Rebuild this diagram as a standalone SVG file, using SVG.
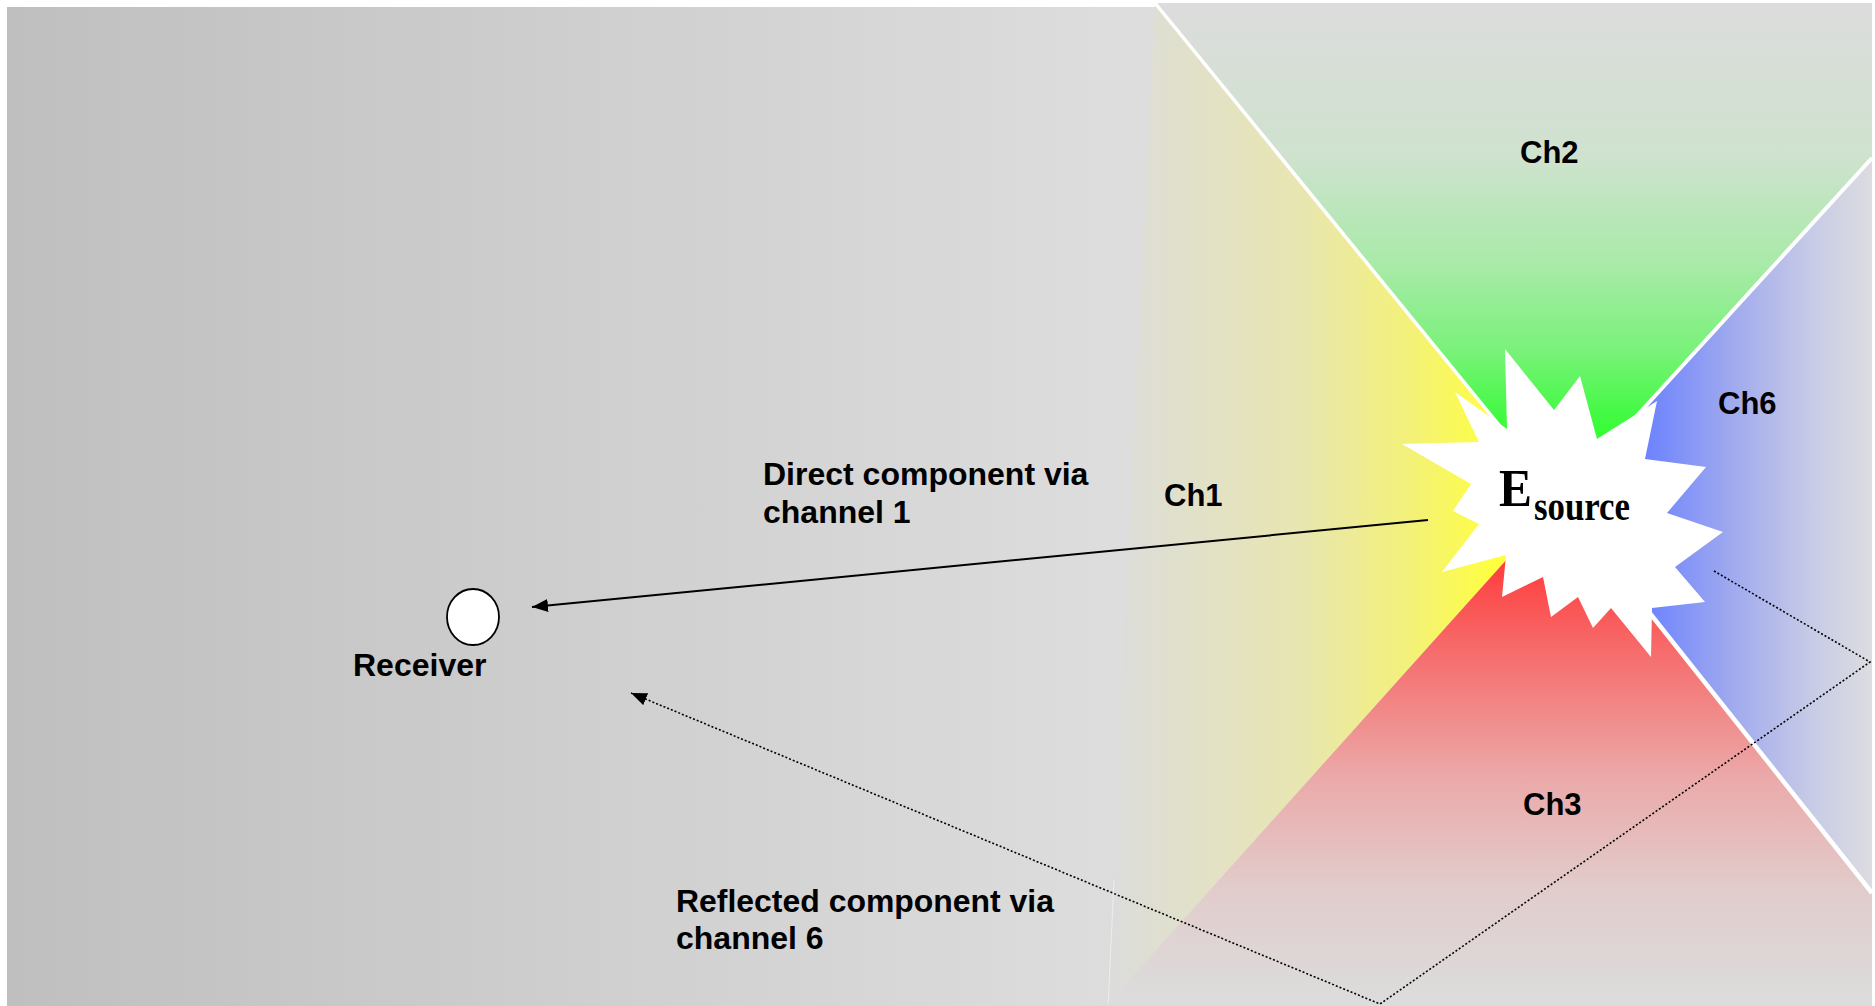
<svg xmlns="http://www.w3.org/2000/svg" width="1875" height="1006" viewBox="0 0 1875 1006">
  <style>
    .lbl { font-family: "Liberation Sans", Arial, sans-serif; font-weight: bold; font-size: 32px; fill: #000; }
    .ch { font-family: "Liberation Sans", Arial, sans-serif; font-weight: bold; font-size: 31px; fill: #000; }
    .src { font-family: "Liberation Serif", "Times New Roman", serif; font-weight: bold; fill: #000; }
    .sep { stroke: #fff; fill: none; }
    .direct { stroke: #000; stroke-width: 2; fill: none; }
    .reflect { stroke: #000; stroke-width: 1.6; stroke-dasharray: 2 2; fill: none; }
  </style>
  <defs>
    <linearGradient id="gBg" gradientUnits="userSpaceOnUse" x1="7" y1="0" x2="1110" y2="0">
      <stop offset="0" stop-color="#bfbfbf"/>
      <stop offset="1" stop-color="#dddddd"/>
    </linearGradient>
    <linearGradient id="gGreen" gradientUnits="userSpaceOnUse" x1="0" y1="3" x2="0" y2="440">
      <stop offset="0" stop-color="#dcdcdc"/>
      <stop offset="0.35" stop-color="#cfe2cf"/>
      <stop offset="0.6" stop-color="#a8eaa8"/>
      <stop offset="0.8" stop-color="#78f278"/>
      <stop offset="0.95" stop-color="#40fa40"/>
      <stop offset="1" stop-color="#33ff33"/>
    </linearGradient>
    <linearGradient id="gYellow" gradientUnits="userSpaceOnUse" x1="1110" y1="0" x2="1495" y2="0">
      <stop offset="0" stop-color="#dcdcdc"/>
      <stop offset="0.5" stop-color="#e8e6b0"/>
      <stop offset="0.8" stop-color="#f4f274"/>
      <stop offset="1" stop-color="#ffff40"/>
    </linearGradient>
    <linearGradient id="gRed" gradientUnits="userSpaceOnUse" x1="0" y1="560" x2="0" y2="1000">
      <stop offset="0" stop-color="#ff3c3c"/>
      <stop offset="0.2" stop-color="#f76a6a"/>
      <stop offset="0.5" stop-color="#ebaaaa"/>
      <stop offset="0.75" stop-color="#e2cccc"/>
      <stop offset="1" stop-color="#dcdcdc"/>
    </linearGradient>
    <linearGradient id="gBlue" gradientUnits="userSpaceOnUse" x1="1640" y1="0" x2="1872" y2="0">
      <stop offset="0" stop-color="#6a80ff"/>
      <stop offset="0.4" stop-color="#a0aaee"/>
      <stop offset="0.75" stop-color="#c8cce6"/>
      <stop offset="1" stop-color="#dcdce0"/>
    </linearGradient>
    <marker id="arrow" markerUnits="userSpaceOnUse" markerWidth="16" markerHeight="13" refX="16" refY="6.5" orient="auto">
      <path d="M0,0 L16,6.5 L0,13 Z" fill="#000"/>
    </marker>
  </defs>

  <rect id="background" x="7" y="7" width="1865" height="999" fill="url(#gBg)"/>

  <g id="ch1-wedge">
    <polygon points="1155,3 1560,500 1106,1006" fill="url(#gYellow)"/>
    <line x1="1114" y1="880" x2="1108" y2="1006" stroke="#fff" stroke-opacity="0.5" stroke-width="1"/>
  </g>
  <g id="ch2-wedge">
    <polygon points="1155,3 1872,3 1872,158 1560,500" fill="url(#gGreen)"/>
  </g>
  <g id="ch6-wedge">
    <polygon points="1872,158 1560,500 1872,893" fill="url(#gBlue)"/>
  </g>
  <g id="ch3-wedge">
    <polygon points="1560,500 1872,893 1872,1006 1106,1006" fill="url(#gRed)"/>
  </g>
  <g id="separators">
    <line class="sep" x1="1155" y1="3" x2="1560" y2="500" stroke-width="3.5"/>
    <line class="sep" x1="1872" y1="158" x2="1560" y2="500" stroke-width="4"/>
    <line class="sep" x1="1560" y1="500" x2="1872" y2="893" stroke-width="4.5"/>
  </g>

  <g id="source">
    <polygon fill="#fff" points="1505,349 1554,410 1580,376 1597,439 1657,401 1645,459 1706,467 1667,513 1723,532 1675,567 1705,602 1652,608 1651,657 1611,608 1593,628 1578,597 1551,617 1543,577 1502,597 1506,555 1442,572 1479,524 1453,511 1471,484 1402,444 1479,442 1455,392 1507,429"/>
    <text class="src" x="1499" y="506" font-size="52" textLength="33" lengthAdjust="spacingAndGlyphs">E</text>
    <text class="src" x="1534" y="520" font-size="40" textLength="96" lengthAdjust="spacingAndGlyphs">source</text>
  </g>

  <g id="receiver">
    <ellipse cx="473" cy="617" rx="26" ry="28" fill="#fff" stroke="#000" stroke-width="1.8"/>
    <text class="lbl" x="353" y="676">Receiver</text>
  </g>

  <g id="connectors">
    <line class="direct" x1="1428" y1="520" x2="532" y2="607" marker-end="url(#arrow)"/>
    <polyline class="reflect" points="1714,571 1870,662 1380,1004 631,693" marker-end="url(#arrow)"/>
  </g>

  <g id="labels">
    <text class="ch" x="1520" y="163">Ch2</text>
    <text class="ch" x="1718" y="414">Ch6</text>
    <text class="ch" x="1164" y="506">Ch1</text>
    <text class="ch" x="1523" y="815">Ch3</text>
    <text class="lbl" x="763" y="485">Direct component via</text>
    <text class="lbl" x="763" y="523">channel 1</text>
    <text class="lbl" x="676" y="912" textLength="378" lengthAdjust="spacingAndGlyphs">Reflected component via</text>
    <text class="lbl" x="676" y="949">channel 6</text>
  </g>
</svg>
